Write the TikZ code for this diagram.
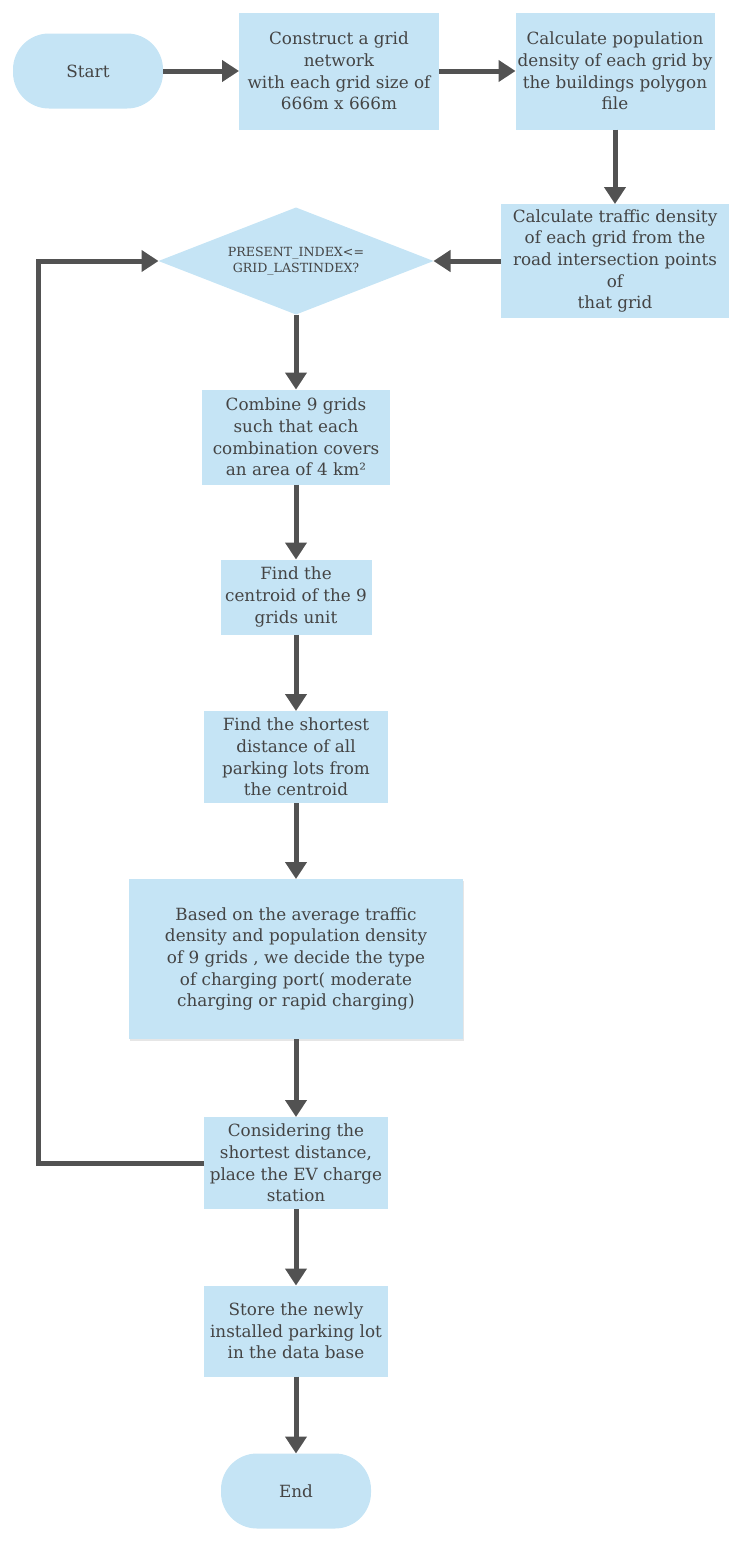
\documentclass[tikz,border=0pt]{standalone}
\usepackage{fontspec}
\setmainfont{DejaVu Serif}
\usetikzlibrary{positioning,shapes.geometric,arrows.meta,shadows}

\definecolor{boxfill}{HTML}{C5E4F5}
\definecolor{txt}{HTML}{444444}
\definecolor{line}{HTML}{525252}

\begin{document}
\begin{tikzpicture}
[every node/.style={fill=boxfill,text=txt,inner sep=0pt,outer sep=0pt,align=center,
   font=\fontsize{16.8}{21.7}\selectfont},
 term/.style={rectangle,rounded corners=36pt,minimum width=150pt,minimum height=75pt},
 proc/.style={rectangle},
 cond/.style={diamond,aspect=2.6,minimum width=275pt,minimum height=107pt,
   font=\fontsize{12.6}{16}\selectfont},
 arr/.style={-{Triangle[length=17pt,width=21pt]},line,line width=5pt}]

\useasboundingbox (0,0) rectangle (741pt,-1542pt);

% top row
\node[term] (start) at (88pt,-71pt) {Start};
\node[proc,minimum width=200pt,minimum height=117pt] (grid) [on grid,right=251pt of start]
  {Construct a grid\\network\\with each grid size of\\666m x 666m};
\node[proc,minimum width=199pt,minimum height=117pt] (popul) [on grid,right=276pt of grid]
  {Calculate population\\density of each grid by\\the buildings polygon\\file};
\node[proc,minimum width=228pt,minimum height=114pt] (traffic) [on grid,below=190pt of popul]
  {Calculate traffic density\\of each grid from the\\road intersection points\\of\\that grid};

% loop
\node[cond] (check) [on grid,left=319pt of traffic] {PRESENT\_INDEX<=\\GRID\_LASTINDEX?};
\node[proc,minimum width=188pt,minimum height=95pt] (combine) [on grid,below=176pt of check]
  {Combine 9 grids\\such that each\\combination covers\\an area of 4 km²};
\node[proc,minimum width=151pt,minimum height=75pt] (centroid) [on grid,below=160pt of combine]
  {Find the\\centroid of the 9\\grids unit};
\node[proc,minimum width=184pt,minimum height=92pt] (shortest) [on grid,below=160pt of centroid]
  {Find the shortest\\distance of all\\parking lots from\\the centroid};
\node[proc,minimum width=334pt,minimum height=160pt,
      drop shadow={opacity=0.2,shadow xshift=1pt,shadow yshift=-1.5pt}] (decide) [on grid,below=202pt of shortest]
  {Based on the average traffic\\density and population density\\of 9 grids , we decide the type\\of charging port( moderate\\charging or rapid charging)};
\node[proc,minimum width=184pt,minimum height=92pt] (place) [on grid,below=204pt of decide]
  {Considering the\\shortest distance,\\place the EV charge\\station};
\node[proc,minimum width=184pt,minimum height=91pt] (store) [on grid,below=168pt of place]
  {Store the newly\\installed parking lot\\in the data base};
\node[term] (end) [on grid,below=160pt of store] {End};

\coordinate (backB) at (38pt,-1163pt);
\coordinate (backT) at (backB |- check.west);

\path[arr] (start)    edge (grid);
\path[arr] (grid)     edge (popul);
\path[arr] (popul)    edge (traffic);
\path[arr] (traffic)  edge (check);
\path[arr] (check)    edge (combine);
\path[arr] (combine)  edge (centroid);
\path[arr] (centroid) edge (shortest);
\path[arr] (shortest) edge (decide);
\path[arr] (decide)   edge (place);
\path[arr] (place)    edge (store);
\path[arr] (store)    edge (end);
\draw[arr,line join=miter] (place.west) -- (backB) -- (backT) -- (check.west);

\end{tikzpicture}
\end{document}
